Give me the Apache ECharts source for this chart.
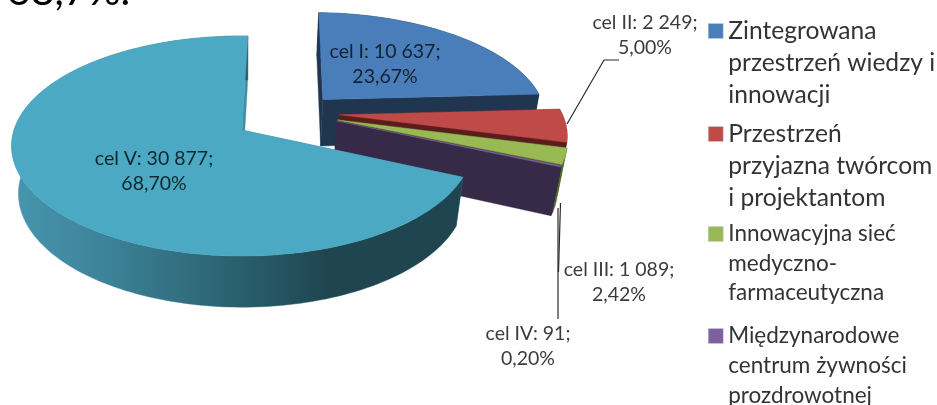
<!DOCTYPE html>
<html><head><meta charset="utf-8">
<style>html,body{margin:0;padding:0;background:#fff}#c{width:937px;height:405px}</style>
<script src="https://cdn.jsdelivr.net/npm/echarts@6/dist/echarts.min.js"></script>
</head><body><div id="c"></div>
<script>
// ---- data ----
const goals = ['cel I', 'cel II', 'cel III', 'cel IV', 'cel V'];
const values = [10637, 2249, 1089, 91, 30877];
const legendNames = [
  'Zintegrowana\nprzestrzeń wiedzy i\ninnowacji',
  'Przestrzeń\nprzyjazna twórcom\ni projektantom',
  'Innowacyjna sieć\nmedyczno-\nfarmaceutyczna',
  'Międzynarodowe\ncentrum żywności\nprozdrowotnej',
  'cel V'
];
const clippedTitle = '68,7%.';

// ---- style / layout ----
const topColors = ['#4A7EBB', '#BE4B48', '#98B954', '#7D60A0', '#4BA9C4'];
const wallColors = ['#1F3550', '#5A1D1B', '#56682C', '#372A48', '#3F8CA5'];
const font = 'Lato, "Open Sans", sans-serif';
const FIRST_ANGLE = 1.7;
const explode = [[.37, -.295], [.435, -.145], [.425, -.095], [.42, -.085], [0, 0]];
const labelAt = [[385, 64], [645, 35], [619, 282], [528, 346], [154, 171]];
const labelColor = ['#12222e', '#3b3b3b', '#3b3b3b', '#3b3b3b', '#10262f'];
const leaders = {1: [[567, 124], [604, 60], [619, 60]], 2: [[560.5, 203], [558.5, 272]], 3: [[558, 208], [558, 319]]};
const legendPos = [
  {size: 24.6, lh: 32, y: 31},
  {size: 24.6, lh: 32, y: 134},
  {size: 22.5, lh: 29.5, y: 234},
  {size: 22.5, lh: 30, y: 336}
];

// projection: unit disc (u,v) at height h onto the screen
const P = {x0: 242, y0: 130, d: 228, a: 107.7, c: -.1455, e: .03, k: 49};
function proj(u, v, h) {
  const w = 1 + P.c * v + P.e * h;
  return [P.x0 + P.d * u / w, P.y0 + (P.a * v + P.k * h) / w];
}
const total = values.reduce((s, v) => s + v, 0);
function fmtValue(v) { return String(v).replace(/\B(?=(\d{3})+$)/g, ' '); }
function fmtPct(v) { return (v / total * 100).toFixed(2).replace('.', ',') + '%'; }

function sliceSpan(i, value) {
  let before = 0;
  for (let j = 0; j < i; j++) before += values[j];
  const s = FIRST_ANGLE + before / total * 360;
  return [s, s + value / total * 360];
}
function arc(i, a0, a1, h) {
  const [ou, ov] = explode[i], pts = [];
  const n = Math.max(2, Math.ceil((a1 - a0) / 1.5));
  for (let t = 0; t <= n; t++) {
    const a = (a0 + (a1 - a0) * t / n) * Math.PI / 180;
    pts.push(proj(ou + Math.sin(a), ov - Math.cos(a), h));
  }
  return pts;
}
function renderSlice(i) {
  return function (params, api) {
    const value = api.value(0);
    const [a0, a1] = sliceSpan(i, value);
    const [ou, ov] = explode[i];
    const apexT = proj(ou, ov, 0), apexB = proj(ou, ov, 1);
    const wall = wallColors[i];
    const poly = (points, fill) => ({type: 'polygon', shape: {points}, silent: true,
      style: {fill, stroke: fill, lineWidth: .4}});
    const children = [];
    const rimT = arc(i, a0, a1, 0), rimB = arc(i, a0, a1, 1);
    children.push(poly([apexT, rimT[0], rimB[0], apexB], wall));
    children.push(poly([apexT, rimT[rimT.length - 1], rimB[rimB.length - 1], apexB], wall));
    const outerFill = i === 4 ? new echarts.graphic.LinearGradient(15, 0, 460, 0, [
      {offset: 0, color: '#4795AF'}, {offset: .2, color: '#3D8399'},
      {offset: .45, color: '#2D6675'}, {offset: .7, color: '#1F4650'}, {offset: 1, color: '#1F4650'}
    ], true) : wall;
    children.push(poly(rimT.concat(rimB.slice().reverse()), outerFill));
    children.push(poly([apexT].concat(rimT), topColors[i]));
    if (leaders[i]) children.push({type: 'polyline', shape: {points: leaders[i]}, silent: true,
      style: {fill: null, stroke: '#2a2a2a', lineWidth: 1.2}});
    children.push({type: 'text', x: labelAt[i][0], y: labelAt[i][1], silent: true, z2: 10,
      style: {text: goals[i] + ': ' + fmtValue(value) + ';\n' + fmtPct(value),
        fill: labelColor[i], font: '19.5px ' + font, lineHeight: 25, align: 'center', verticalAlign: 'middle'}});
    return {type: 'group', children};
  };
}

const series = goals.map((g, i) => ({
  type: 'custom', name: legendNames[i], coordinateSystem: 'none',
  renderItem: renderSlice(i), data: [values[i]], clip: false, silent: true,
  itemStyle: {color: topColors[i]}, animation: false
}));

const legends = legendPos.map((p, i) => ({
  data: [legendNames[i]], orient: 'vertical', left: 708, top: p.y - 2.5 * p.lh, padding: 0,
  icon: 'rect', itemWidth: 15, itemHeight: 15, itemGap: 0, selectedMode: false,
  formatter: n => '\n\n' + n,
  itemStyle: {color: topColors[i], borderColor: '#c8d0dc', borderWidth: .5},
  textStyle: {fontFamily: font, fontSize: p.size, lineHeight: p.lh, color: '#333'}
}));

echarts.init(document.getElementById('c'), null, {renderer: 'canvas'}).setOption({
  animation: false,
  backgroundColor: '#fff',
  legend: legends,
  graphic: [{type: 'text', x: 7, y: 12, silent: true,
    style: {text: clippedTitle, font: '41px ' + font, fill: '#000', verticalAlign: 'bottom'}}],
  series
});
</script></body></html>
